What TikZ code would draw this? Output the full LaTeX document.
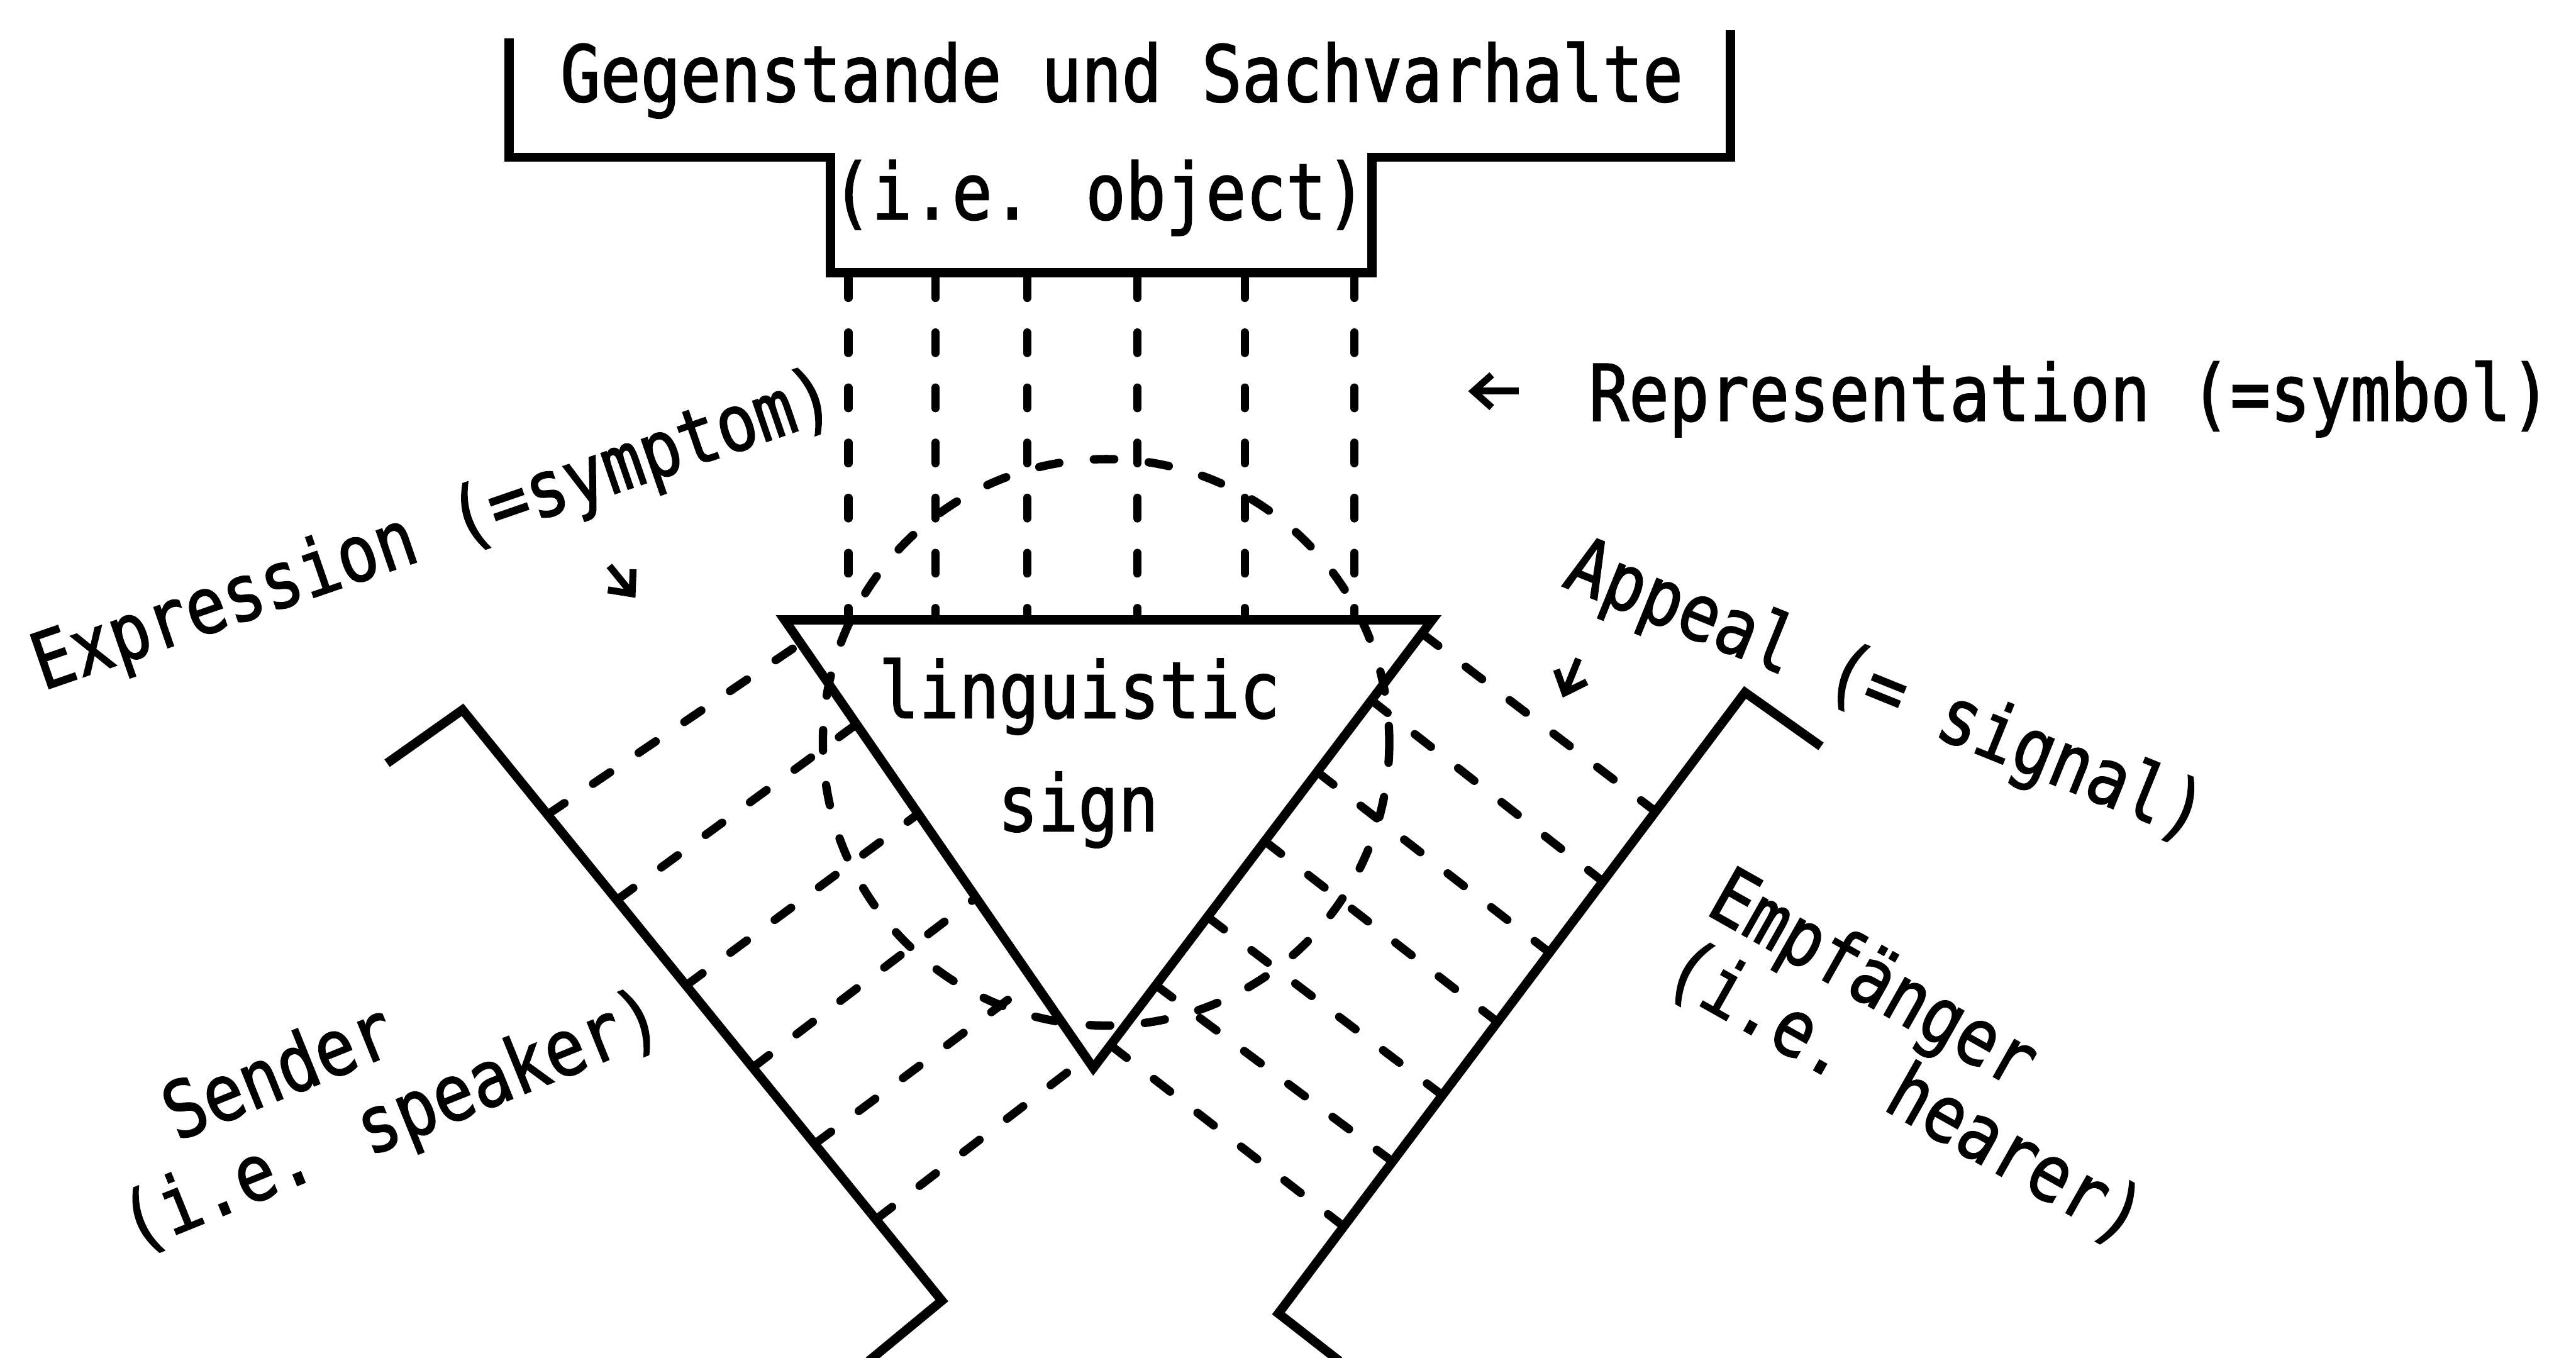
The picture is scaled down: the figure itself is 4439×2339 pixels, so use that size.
\documentclass[tikz,border=0pt]{standalone}
\usepackage{fontspec}
\newfontfamily\typew{DejaVu Sans Mono}[FakeStretch=0.852,FakeBold=1.5]
\usetikzlibrary{calc,arrows.meta}
\begin{document}
\begin{tikzpicture}[x=0.01cm,y=-0.01cm,
  frameline/.style={line width=4.5pt, line join=miter, line cap=butt},
  dashline/.style={line width=4.1pt, line cap=round, dash pattern=on 10pt off 17pt},
  lbl/.style={font=\typew\fontsize{38.3}{46}\selectfont, inner sep=0pt, anchor=base},
  smallarrow/.style={line width=3.4pt, -{Straight Barb[length=9pt,width=16pt]}}]
\useasboundingbox (0,0) rectangle (4439,2339);
\fill[white] (0,0) rectangle (4439,2339);

% key points
\coordinate (T1) at (1352,1068);
\coordinate (T2) at (2468,1068);
\coordinate (T3) at (1884,1840);
\coordinate (L0) at (667,1315);
\coordinate (L1) at (797,1223);
\coordinate (L2) at (1623,2241);
\coordinate (L3) at (1497,2345);
\coordinate (R0) at (3138,1286);
\coordinate (R1) at (3007,1193);
\coordinate (R2) at (2203,2263);
\coordinate (R3) at (2308,2345);
\coordinate (C) at (1906,1279);

% object box
\draw[frameline] (877,66) -- (877,271) -- (1431,271) -- (1431,470) -- (2364,470) -- (2364,271) -- (2982,271) -- (2982,52);

% vertical dashed lines (representation)
\foreach \x in {1462,1612,1770,1960,2145,2334}
  \draw[dashline] (\x,478) -- (\x,1068);

% dashed circle
\draw[dashline] (C) circle[radius=488];

% triangle (linguistic sign)
\draw[frameline] (T1) -- (T2) -- (T3) -- cycle;

% sender bracket
\draw[frameline] (L0) -- (L1) -- (L2) -- (L3);
% receiver bracket
\draw[frameline] (R0) -- (R1) -- (R2) -- (R3);

% expression dashed lines
\foreach \ax/\ay/\bx/\by in {954/1395/1370/1115, 1070/1545/1464/1256, 1192/1690/1571/1410, 1305/1833/1670/1555, 1410/1966/1772/1696, 1518/2094/1870/1824}
  \draw[dashline] ($(L1)!(\ax,\ay)!(L2)$) -- ($(T1)!(\bx,\by)!(T3)$);

% appeal dashed lines
\foreach \ax/\ay/\bx/\by in {2454/1094/2846/1393, 2364/1207/2753/1512, 2279/1337/2663/1636, 2195/1461/2574/1756, 2105/1598/2476/1880, 2007/1709/2391/1995, 1927/1811/2306/2106}
  \draw[dashline] ($(T2)!(\ax,\ay)!(T3)$) -- ($(R1)!(\bx,\by)!(R2)$);

% labels
\node[lbl] (gegen) at (1933,175) {Gegenstande und Sachvarhalte};
\node[lbl] (object) at (1894,378) {(i.e. object)};
\node[lbl] (repr) at (3567,725) {Representation (=symbol)};
\node[lbl] (ling) at (1860,1237) {linguistic};
\node[lbl] (sign) at (1858,1432) {sign};
\node[lbl, rotate=19] (expr) at (760,954) {Expression (=symptom)};
\node[lbl, rotate=-22] (appeal) at (3234,1229) {Appeal (= signal)};
\node[lbl, rotate=22] (sender) at (497,1889) {Sender};
\node[lbl, rotate=22] (speaker) at (690,1971) {(i.e. speaker)};
\node[lbl, rotate=-29.5] (empf) at (3207,1726) {Empfänger};
\node[lbl, rotate=-29.5] (hearer) at (3262,1921) {(i.e. hearer)};

% small pointer arrows
\coordinate (ra1) at (2617,674);
\coordinate (ra2) at (2530,674);
\draw[smallarrow] (ra1) -- (ra2);
\coordinate (ea1) at (1050,975);
\coordinate (ea2) at (1095,1030);
\draw[smallarrow] (ea1) -- (ea2);
\coordinate (aa1) at (2720,1135);
\coordinate (aa2) at (2693,1202);
\draw[smallarrow] (aa1) -- (aa2);
\end{tikzpicture}
\end{document}
